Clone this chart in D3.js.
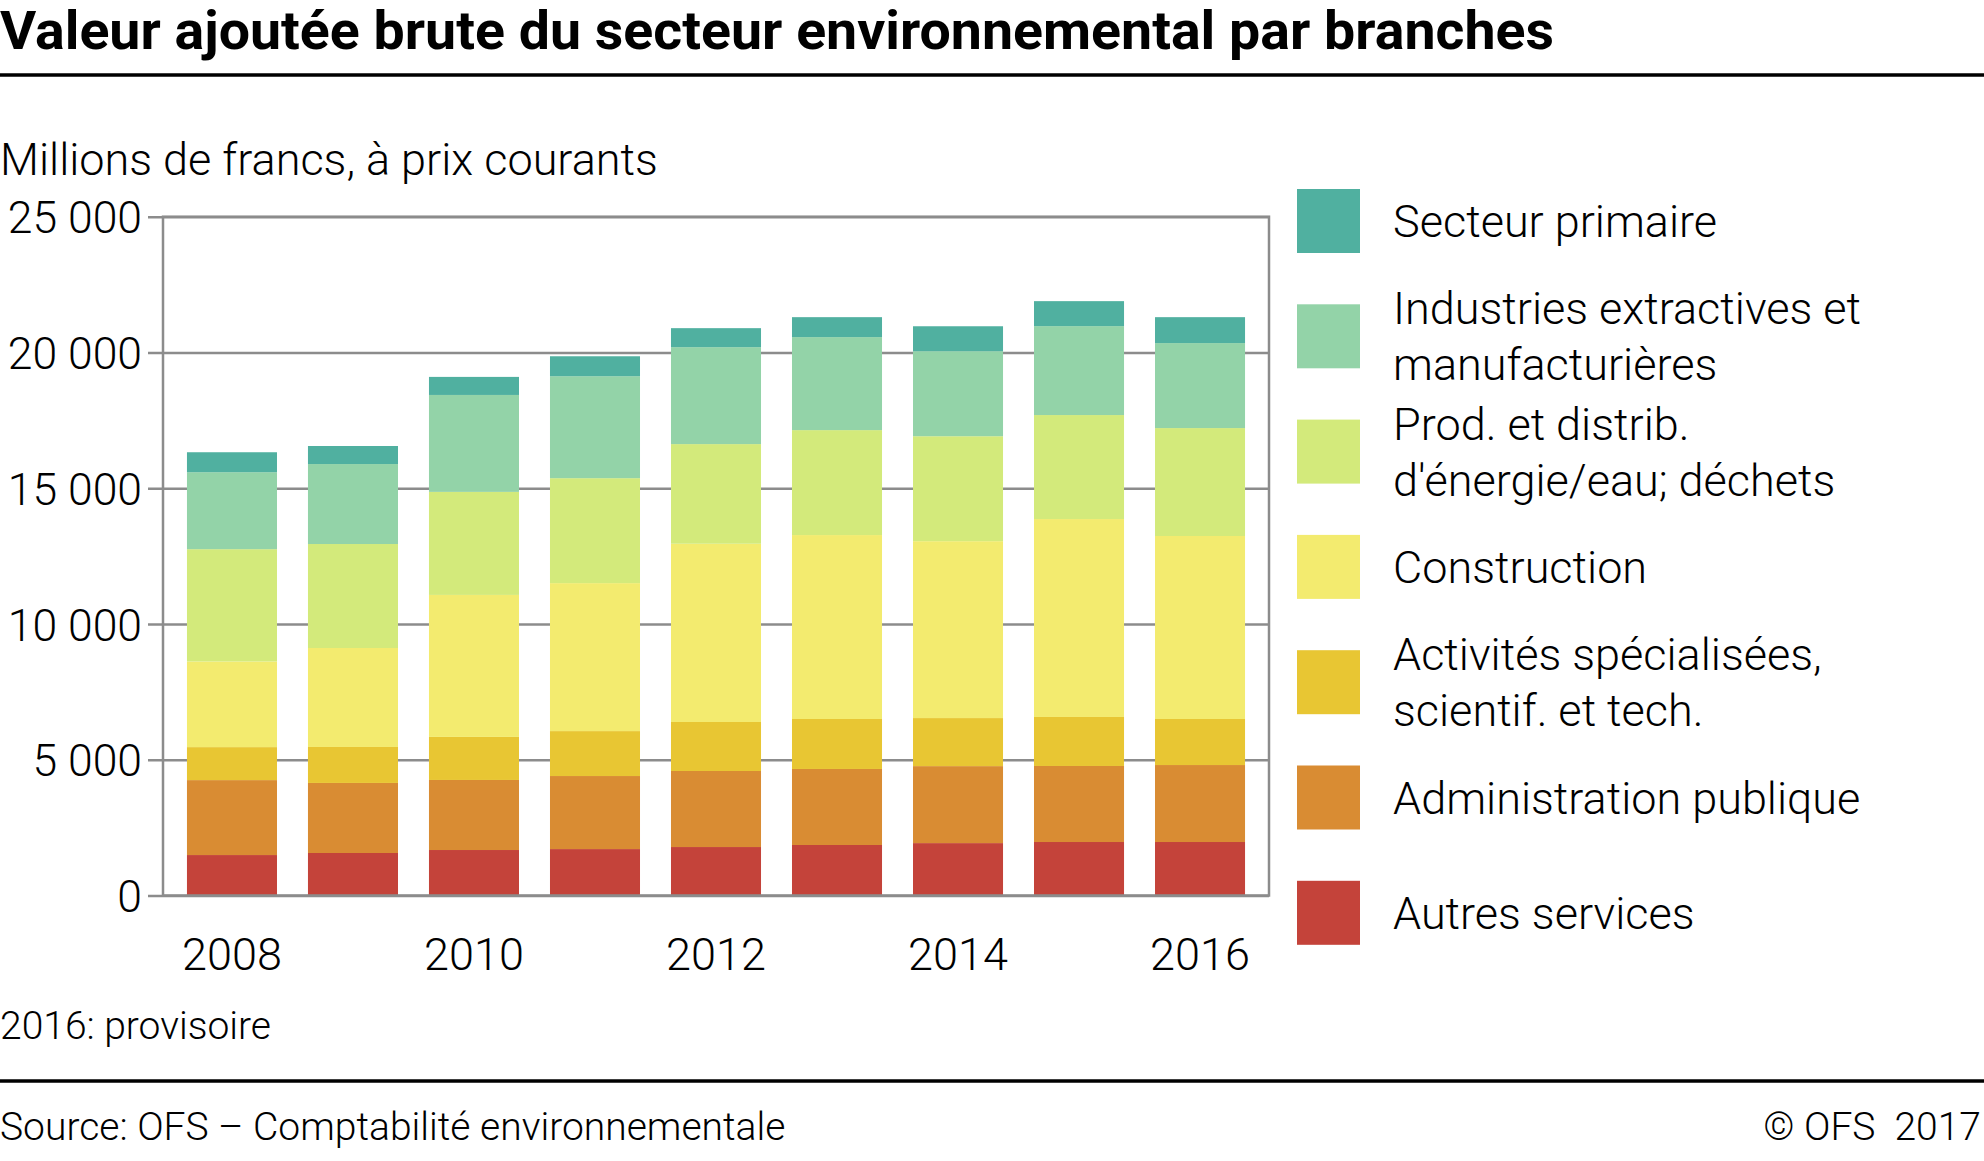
<!DOCTYPE html>
<html>
<head>
<meta charset="utf-8">
<script src="https://cdn.jsdelivr.net/npm/d3@7"></script>
<style>
  html, body { margin: 0; padding: 0; background: #fff; }
  svg { display: block; }
  text { font-family: Roboto, "Noto Sans", sans-serif; }
</style>
</head>
<body>
<svg id="chart" width="1984" height="1161"></svg>
<script>
// ---- data ----
const years = [2008, 2009, 2010, 2011, 2012, 2013, 2014, 2015, 2016];
const yearLabels = [2008, 2010, 2012, 2014, 2016];
const seriesNames = [
  "Autres services",
  "Administration publique",
  "Activités spécialisées, scientif. et tech.",
  "Construction",
  "Prod. et distrib. d'énergie/eau; déchets",
  "Industries extractives et manufacturières",
  "Secteur primaire"
];
const autresServices   = [1490, 1565, 1675, 1710, 1785, 1860, 1930, 1970, 1970];
const administration   = [2760, 2580, 2580, 2690, 2800, 2800, 2835, 2800, 2835];
const activites        = [1215, 1325, 1585, 1655, 1805, 1840, 1770, 1805, 1695];
const construction     = [3155, 3645, 5230, 5450, 6565, 6775, 6515, 7290, 6740];
const prodDistrib      = [4135, 3830, 3795, 3865, 3670, 3865, 3865, 3830, 3975];
const industries       = [2835, 2945, 3570, 3755, 3570, 3425, 3130, 3275, 3130];
const secteurPrimaire  = [ 735,  665,  665,  735,  700,  735,  920,  920,  955];
const yTicks = [0, 5000, 10000, 15000, 20000, 25000];
const legendLines = [
  ["Secteur primaire"],
  ["Industries extractives et", "manufacturières"],
  ["Prod. et distrib.", "d'énergie/eau; déchets"],
  ["Construction"],
  ["Activités spécialisées,", "scientif. et tech."],
  ["Administration publique"],
  ["Autres services"]
];
const colors = ["#c4433a", "#d98c33", "#e8c633", "#f3eb6f", "#d3ea7b", "#93d3a8", "#50b0a0"];

// ---- build table ----
const seriesValues = [autresServices, administration, activites, construction, prodDistrib, industries, secteurPrimaire];
const table = years.map((yr, i) => {
  const row = { year: yr };
  seriesNames.forEach((n, k) => row[n] = seriesValues[k][i]);
  return row;
});
const stacked = d3.stack().keys(seriesNames)(table);

const svg = d3.select("#chart");
const gray = "#8c8c8c";
const pLeft = 163, pRight = 1269, pTop = 216.7, pBottom = 895.5;

const x = d3.scaleBand().domain(years).range([pLeft, pRight]).paddingInner(0.256).paddingOuter(0.198);
const y = d3.scaleLinear().domain([0, 25000]).range([pBottom, pTop]);
const color = d3.scaleOrdinal().domain(seriesNames).range(colors);

// Title
svg.append("text").attr("x", 0).attr("y", 49)
  .attr("font-size", 53).attr("font-weight", 700)
  .attr("textLength", 1554).attr("lengthAdjust", "spacingAndGlyphs")
  .text("Valeur ajoutée brute du secteur environnemental par branches");
svg.append("line").attr("x1", 0).attr("x2", 1984).attr("y1", 75).attr("y2", 75)
  .attr("stroke", "#000").attr("stroke-width", 3.5);

// Subtitle
svg.append("text").attr("x", 0).attr("y", 175)
  .attr("font-size", 45).attr("font-weight", 300)
  .text("Millions de francs, à prix courants");

// gridlines + y axis
const fmt = d => d3.format(",")(d).replace(/,/g, " ");
const yAxis = svg.append("g").attr("transform", `translate(${pLeft},0)`)
  .call(d3.axisLeft(y).tickValues(yTicks).tickSize(-(pRight - pLeft)).tickFormat(fmt).tickPadding(21));
yAxis.select(".domain").remove();
yAxis.selectAll(".tick line").attr("x1", -15).attr("stroke", gray).attr("stroke-width", 2.5);
yAxis.selectAll(".tick text").attr("font-size", 44.5).attr("font-weight", 300).attr("fill", "#000")
  .attr("font-family", "Roboto, sans-serif").attr("dy", "0.36em");

// bars
svg.append("g").selectAll("g").data(stacked).join("g")
  .attr("fill", d => color(d.key))
  .selectAll("rect").data(d => d).join("rect")
  .attr("x", d => x(d.data.year))
  .attr("width", x.bandwidth())
  .attr("y", d => y(d[1]))
  .attr("height", d => y(d[0]) - y(d[1]));

// frame
svg.append("rect").attr("x", pLeft).attr("y", pTop).attr("width", pRight - pLeft).attr("height", pBottom - pTop)
  .attr("fill", "none").attr("stroke", gray).attr("stroke-width", 2.5);

// x axis labels
const xAxis = svg.append("g").attr("transform", `translate(0,${pBottom})`)
  .call(d3.axisBottom(x).tickValues(yearLabels).tickSize(0));
xAxis.select(".domain").remove();
xAxis.selectAll(".tick text").attr("y", 970 - pBottom).attr("dy", 0)
  .attr("font-size", 45).attr("font-weight", 300).attr("fill", "#000")
  .attr("font-family", "Roboto, sans-serif");

// legend
const legendNames = seriesNames.slice().reverse();
const lg = svg.append("g").selectAll("g").data(legendNames).join("g")
  .attr("transform", (d, i) => `translate(1297,${189 + i * 115.3})`);
lg.append("rect").attr("width", 63).attr("height", 64).attr("fill", d => color(d));
lg.each(function(d, i) {
  const lines = legendLines[i];
  const g = d3.select(this);
  const base = 32 + 16 - (lines.length - 1) * 28;
  lines.forEach((ln, j) => {
    g.append("text").attr("x", 96).attr("y", base + j * 56)
      .attr("font-size", 45).attr("font-weight", 300).text(ln);
  });
});

// footer
svg.append("text").attr("x", 0).attr("y", 1039)
  .attr("font-size", 39).attr("font-weight", 300).text("2016: provisoire");
svg.append("line").attr("x1", 0).attr("x2", 1984).attr("y1", 1081).attr("y2", 1081)
  .attr("stroke", "#000").attr("stroke-width", 3.5);
svg.append("text").attr("x", 0).attr("y", 1140)
  .attr("font-size", 39).attr("font-weight", 300).text("Source: OFS – Comptabilité environnementale");
svg.append("text").attr("x", 1981).attr("y", 1140).attr("text-anchor", "end")
  .attr("font-size", 39).attr("font-weight", 300).attr("xml:space", "preserve").text("© OFS  2017");
</script>
</body>
</html>
